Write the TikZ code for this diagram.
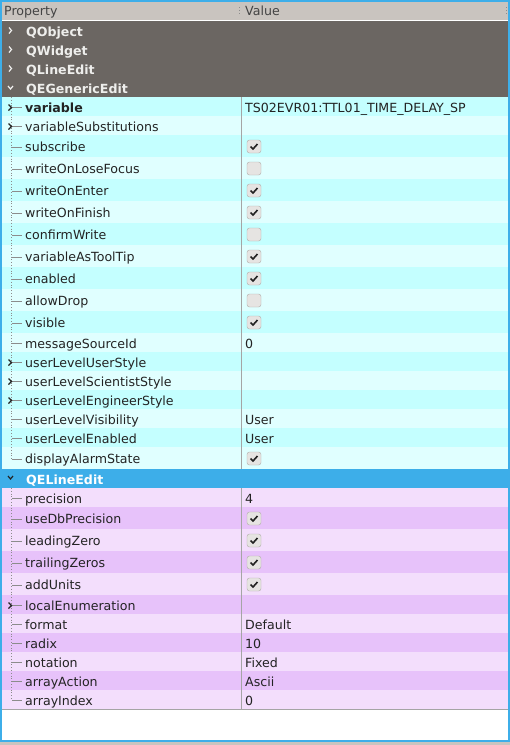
\documentclass[tikz,border=0pt]{standalone}
\usepackage{fontspec}
\setmainfont{DejaVu Sans}

\definecolor{hdrgray}{RGB}{201,196,191}
\definecolor{grpdark}{RGB}{107,102,98}
\definecolor{grpline}{RGB}{170,166,162}
\definecolor{grptext}{RGB}{238,238,236}
\definecolor{cyanD}{RGB}{196,255,255}
\definecolor{cyanL}{RGB}{224,255,255}
\definecolor{pinkD}{RGB}{231,194,250}
\definecolor{pinkL}{RGB}{243,222,252}
\definecolor{selblue}{RGB}{61,174,233}
\definecolor{gridgray}{RGB}{165,165,165}
\definecolor{treegray}{RGB}{140,140,140}
\definecolor{boxfill}{RGB}{230,228,226}
\definecolor{boxline}{RGB}{176,172,168}
\definecolor{inktext}{RGB}{35,35,35}

\tikzset{
  prop/.style={anchor=west, inner sep=0pt, text=inktext, font=\fontsize{12.6}{14}\selectfont, text height=14.1pt, text depth=2.5pt},
  val/.style={prop},
  head/.style={prop, text=inktext!85, text height=11.5pt},
  grp/.style={prop, text=grptext, font=\fontsize{12.6}{14}\selectfont\bfseries},
  gridline/.style={gridgray, line width=1pt},
  tree/.style={treegray, line width=0.8pt},
  chev/.style={inktext, line width=1.2pt},
  cbox/.style={draw=boxline, fill=boxfill, rounded corners=2.5pt, minimum width=14pt, minimum height=13pt, inner sep=0pt},
  tick/.style={inktext, line width=1.6pt}
}

\begin{document}
\begin{tikzpicture}[x=1pt, y=-1pt]
\useasboundingbox (0,0) rectangle (510,745);
\fill[white] (0,0) rectangle (510,745);

% header
\fill[hdrgray] (2,2) rectangle (508,20);
\draw[white, line width=1pt] (2,20.5) -- (508,20.5);
\node[head] (hprop) at (4,11) {Property};
\node[head] (hval) at (245,11) {Value};
\draw[treegray, line width=1pt, dotted] (239,7) -- (239,16);
\draw[treegray, line width=1pt, dotted] (506,7) -- (506,16);

% collapsed groups
\foreach \t/\lab [count=\i] in {21/QObject, 40/QWidget, 59/QLineEdit}{
  \fill[grpdark] (2,\t) rectangle (508,\t+19);
  \draw[grpline, line width=1pt] (2,\t+19) -- (508,\t+19);
  \draw[chev, grptext!70] (9,\t+6.5) -- (11.5,\t+9.5) -- (9,\t+12.5);
  \node[grp] (g\i) at (26,\t+9.5) {\lab};
}
\fill[grpdark] (2,78) rectangle (508,97);
\draw[chev, grptext!70] (8,86) -- (10.5,89) -- (13,86);
\node[grp] (g4) at (26,87.5) {QEGenericEdit};

% QEGenericEdit rows
\foreach \t/\b/\col/\lab [count=\i] in {
  97/116/cyanD/\textbf{variable}, 116/135/cyanL/variableSubstitutions,
  135/157/cyanD/subscribe, 157/179/cyanL/writeOnLoseFocus,
  179/201/cyanD/writeOnEnter, 201/223/cyanL/writeOnFinish,
  223/245/cyanD/confirmWrite, 245/267/cyanL/variableAsToolTip,
  267/289/cyanD/enabled, 289/311/cyanL/allowDrop,
  311/333/cyanD/visible, 333/352/cyanL/messageSourceId,
  352/371/cyanD/userLevelUserStyle, 371/390/cyanL/userLevelScientistStyle,
  390/409/cyanD/userLevelEngineerStyle, 409/428/cyanL/userLevelVisibility,
  428/447/cyanD/userLevelEnabled, 447/469/cyanL/displayAlarmState}{
  \fill[\col] (2,\t) rectangle (508,\b);
  \draw[gridline] (2,\b) -- (508,\b);
  \draw[tree] (12,{(\t+\b)/2+1}) -- (22,{(\t+\b)/2+1});
  \node[prop] (c\i) at (25,{(\t+\b)/2}) {\lab};
}
\draw[tree, dotted] (11,97) -- (11,459);
\draw[gridline] (241,97) -- (241,469);

% QELineEdit
\fill[selblue] (2,469) rectangle (508,488);
\draw[chev] (8,476) -- (10.5,479) -- (13,476);
\node[grp, text=white] (g5) at (26,478.5) {QELineEdit};

\foreach \t/\b/\col/\lab [count=\i] in {
  488/507/pinkL/precision, 507/529/pinkD/useDbPrecision,
  529/551/pinkL/leadingZero, 551/573/pinkD/trailingZeros,
  573/595/pinkL/addUnits, 595/614/pinkD/localEnumeration,
  614/633/pinkL/format, 633/652/pinkD/radix,
  652/671/pinkL/notation, 671/690/pinkD/arrayAction,
  690/709/pinkL/arrayIndex}{
  \fill[\col] (2,\t) rectangle (508,\b);
  \draw[gridline] (2,\b) -- (508,\b);
  \draw[tree] (12,{(\t+\b)/2+1}) -- (22,{(\t+\b)/2+1});
  \node[prop] (p\i) at (25,{(\t+\b)/2}) {\lab};
}
\draw[tree, dotted] (11,488) -- (11,700.5);
\draw[gridline] (241,488) -- (241,709);

% expanders
\foreach \c in {107.5, 126.5, 362.5, 381.5, 400.5, 605.5}
  \draw[chev] (8.5,\c-3) -- (11.5,\c) -- (8.5,\c+3);

% values
\node[val] (v1) at (245,106.5) {TS02EVR01:TTL01\_TIME\_DELAY\_SP};
\node[val] (v2) at (245,342.5) {0};
\node[val] (v3) at (245,418.5) {User};
\node[val] (v4) at (245,437.5) {User};
\node[val] (v5) at (245,497.5) {4};
\node[val] (v6) at (245,623.5) {Default};
\node[val] (v7) at (245,642.5) {10};
\node[val] (v8) at (245,661.5) {Fixed};
\node[val] (v9) at (245,680.5) {Ascii};
\node[val] (v10) at (245,699.5) {0};

% check boxes
\foreach \c/\on [count=\i] in {146.5/1, 168.5/0, 190.5/1, 212.5/1, 234.5/0, 256.5/1, 278.5/1, 300.5/0, 322.5/1,
  458.5/1, 518.5/1, 540.5/1, 562.5/1, 584.5/1}{
  \node[cbox] (cb\i) at (254,\c) {};
  \ifnum\on=1 \draw[tick] (cb\i.center) ++(-3.5,0) -- ++(2.5,2.5) -- ++(4.5,-5); \fi
}

% frame
\draw[selblue, line width=2pt] (1,1) rectangle (509,741);
\fill[hdrgray] (0,742) rectangle (510,745);
\end{tikzpicture}
\end{document}
